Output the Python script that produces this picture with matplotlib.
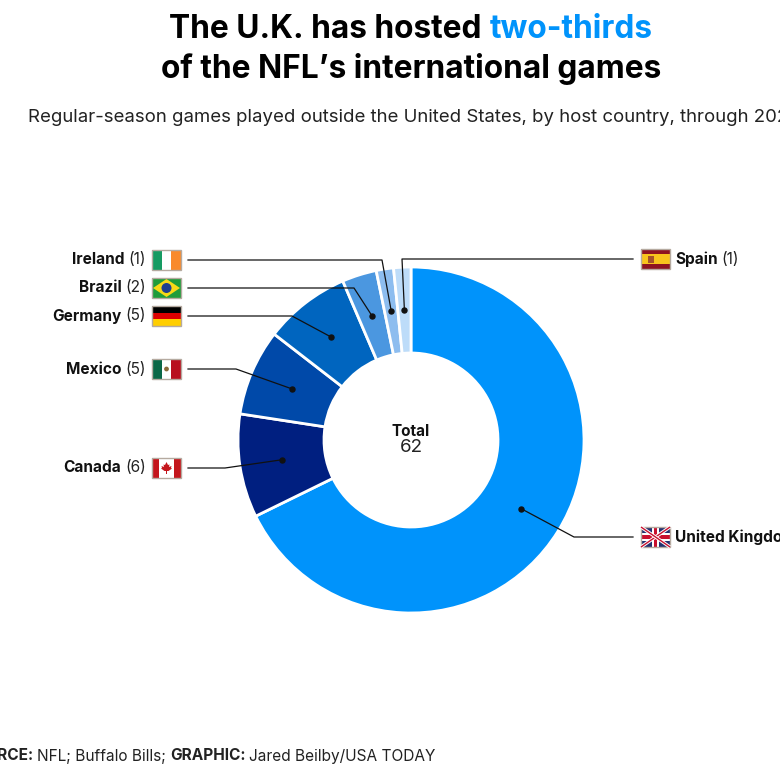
import numpy as np
import matplotlib
matplotlib.use("Agg")
import matplotlib.pyplot as plt
from matplotlib.patches import Rectangle, Polygon, Circle

plt.rcParams['font.family'] = ['Inter', 'DejaVu Sans']

# data ---------------------------------------------------------
countries = ["United Kingdom", "Canada", "Mexico", "Germany", "Brazil", "Ireland", "Spain"]
games = [42, 6, 5, 5, 2, 1, 1]
colors = ["#0093fb", "#001f80", "#0049a9", "#0065bf", "#4b97e0", "#8dbdef", "#bddcf9"]
total = 62

# label layout, pixels from the top left of the picture
label_y = {"Ireland": 260, "Brazil": 288, "Germany": 316, "Mexico": 369,
           "Canada": 468, "Spain": 259, "United Kingdom": 537}
elbow_x = {"Ireland": 382, "Brazil": 354, "Germany": 292, "Mexico": 236,
           "Canada": 225, "Spain": 402, "United Kingdom": 574}
right_side = ["Spain", "United Kingdom"]

cx, cy = 411, 440
R, r_in = 173, 87


def Y(y):
    return 780 - y


fig = plt.figure(figsize=(7.8, 7.8), dpi=100)
ax = fig.add_axes([0, 0, 1, 1])

# donut --------------------------------------------------------
wedges, _ = ax.pie(games, colors=colors, startangle=90, counterclock=False,
                   center=(cx, Y(cy)), radius=R,
                   wedgeprops=dict(width=R - r_in, edgecolor="white", linewidth=2.0))
ax.set_xlim(0, 780)
ax.set_ylim(0, 780)
ax.set_aspect("equal")
ax.axis("off")


def inline(x, y, parts, size, ha="left"):
    # parts = (text, weight, color), placed one after the other
    rend = fig.canvas.get_renderer()
    items = [ax.text(0, Y(y), t, fontsize=size, fontweight=w, color=c, va="center", ha="left")
             for t, w, c in parts]
    widths = [i.get_window_extent(rend).width for i in items]
    gaps = size * 0.36
    full = sum(widths) + gaps * (len(items) - 1)
    pos = x if ha == "left" else (x - full if ha == "right" else x - full / 2)
    for i, w in zip(items, widths):
        i.set_x(pos)
        pos += w + gaps


def flag(name, x, y):
    w, h = 29, 20
    x0, y0 = x, Y(y) - h / 2
    clip = Rectangle((x0, y0), w, h, transform=ax.transData)

    def box(fx, fy, fw, fh, c):
        ax.add_patch(Rectangle((x0 + fx * w, y0 + fy * h), fw * w, fh * h, fc=c, ec="none"))

    if name == "Ireland":
        box(0, 0, 1/3, 1, "#169b62"); box(1/3, 0, 1/3, 1, "white"); box(2/3, 0, 1/3, 1, "#f98a2c")
    elif name == "Brazil":
        box(0, 0, 1, 1, "#1f9c3a")
        ax.add_patch(Polygon([(x0 + 1, y0 + h/2), (x0 + w/2, y0 + h - 1), (x0 + w - 1, y0 + h/2), (x0 + w/2, y0 + 1)], fc="#f7d917", ec="none"))
        ax.add_patch(Circle((x0 + w/2, y0 + h/2), 5, fc="#1f3f8f", ec="none"))
    elif name == "Germany":
        box(0, 2/3, 1, 1/3, "black"); box(0, 1/3, 1, 1/3, "#dd0000"); box(0, 0, 1, 1/3, "#ffce00")
    elif name == "Mexico":
        box(0, 0, 1/3, 1, "#0b6847"); box(1/3, 0, 1/3, 1, "white"); box(2/3, 0, 1/3, 1, "#b8101f")
        ax.add_patch(Circle((x0 + w/2, y0 + h/2), 2.4, fc="#8a6a3a", ec="none"))
    elif name == "Canada":
        box(0, 0, 1/4, 1, "#c4161c"); box(1/4, 0, 1/2, 1, "white"); box(3/4, 0, 1/4, 1, "#c4161c")
        mx, my = x0 + w/2, y0 + h/2
        leaf = [(0, 6), (1.5, 3), (3, 3.5), (2.5, 1), (5, 2), (4.5, 0), (5.5, -0.5), (2, -3), (0.5, -3), (0.5, -6),
                (-0.5, -6), (-0.5, -3), (-2, -3), (-5.5, -0.5), (-4.5, 0), (-5, 2), (-2.5, 1), (-3, 3.5), (-1.5, 3)]
        ax.add_patch(Polygon([(mx + a, my + b) for a, b in leaf], fc="#c4161c", ec="none"))
    elif name == "Spain":
        box(0, 0, 1, 1, "#8e1420"); box(0, 1/4, 1, 1/2, "#f8c41c")
        ax.add_patch(Rectangle((x0 + 7, y0 + h/2 - 3.5), 6, 7, fc="#a5522a", ec="none"))
    elif name == "United Kingdom":
        box(0, 0, 1, 1, "#23306f")
        for (a, b), (c, d) in [((0, 0), (w, h)), ((0, h), (w, 0))]:
            ax.plot([x0 + a, x0 + c], [y0 + b, y0 + d], color="white", lw=2.4, clip_path=clip, solid_capstyle="butt")
            ax.plot([x0 + a, x0 + c], [y0 + b, y0 + d], color="#c8102e", lw=1.0, clip_path=clip, solid_capstyle="butt")
        box(0, 0.32, 1, 0.36, "white"); box(0.39, 0, 0.22, 1, "white")
        box(0, 0.39, 1, 0.22, "#c8102e"); box(0.44, 0, 0.12, 1, "#c8102e")
    ax.add_patch(Rectangle((x0, y0), w, h, fc="none", ec="#b5aaa0", lw=1.0))


# labels and leader lines --------------------------------------
cum = np.cumsum([0] + games)
for i, name in enumerate(countries):
    mid = np.deg2rad((cum[i] + games[i] / 2) / sum(games) * 360)
    dot_x = cx + 130 * np.sin(mid)
    dot_y = Y(cy) + 130 * np.cos(mid)
    ly = label_y[name]
    parts = [(name, "bold", "#111111"), ("(%d)" % games[i], "normal", "#222222")]
    if name in right_side:
        xs = [633, elbow_x[name], dot_x]
        flag(name, 641, ly)
        inline(675, ly, parts, 11.1)
    else:
        xs = [188, elbow_x[name], dot_x]
        flag(name, 152, ly)
        inline(146, ly, parts, 11.1, ha="right")
    ax.plot(xs, [Y(ly), Y(ly), dot_y], color="#111111", lw=0.9)
    ax.plot([dot_x], [dot_y], "o", color="#111111", ms=3.6)

# center
ax.text(cx, Y(431), "Total", ha="center", va="center", fontsize=11, fontweight="bold", color="#111111")
ax.text(cx, Y(448), str(total), ha="center", va="center", fontsize=13.5, color="#222222")

# titles -------------------------------------------------------
inline(411, 30, [("The U.K. has hosted", "bold", "black"), ("two-thirds", "bold", "#0093fb")], 22.8, ha="center")
ax.text(411, Y(69), "of the NFL\u2019s international games", ha="center", va="center",
        fontsize=22.8, fontweight="bold", color="black")
ax.text(28, Y(118), "Regular-season games played outside the United States, by host country, through 2024",
        ha="left", va="center", fontsize=13.4, color="#222222")
inline(-36, 756, [("SOURCE:", "bold", "#222222"), ("NFL; Buffalo Bills;", "normal", "#222222"),
                  ("GRAPHIC:", "bold", "#222222"), ("Jared Beilby/USA TODAY", "normal", "#222222")], 11.1)

fig.savefig("out.png", dpi=100)
